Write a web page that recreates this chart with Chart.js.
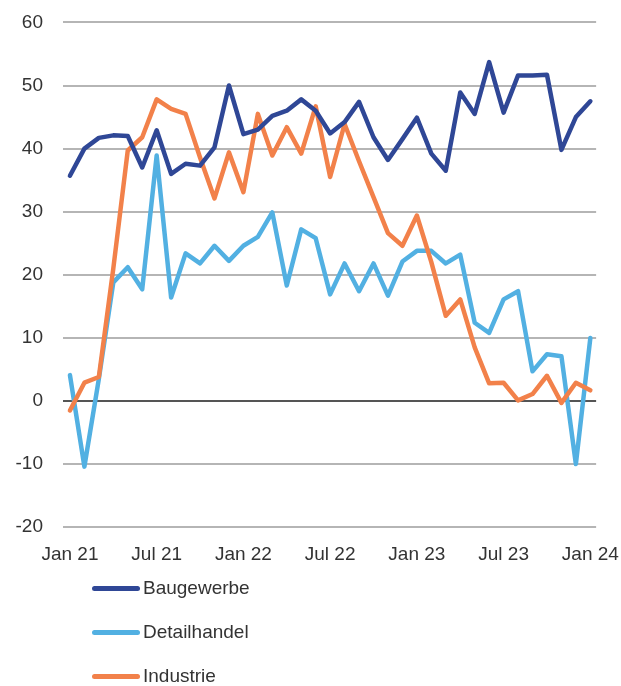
<!doctype html>
<html>
<head>
	<title>Geschäftslage</title>
	<script src="https://cdn.jsdelivr.net/npm/chart.js@4.4.0/dist/chart.umd.min.js"></script>
	<style>
		body { margin: 0; background: #fff; font-family: "Liberation Sans", Arial, sans-serif; overflow: hidden; }
		#wrap { position: relative; width: 621px; height: 686px; overflow: hidden; }
		#box { position: absolute; left: 0; top: -9px; width: 627px; height: 583px; }
		#legend { position: absolute; left: 92px; top: 566px; }
		.item { height: 44px; display: flex; align-items: center; font-size: 19px; color: #333; }
		.swatch { width: 48px; height: 5px; border-radius: 3px; margin-right: 3px; }
	</style>
</head>
<body>
<div id="wrap">
	<div id="box"><canvas id="canvas"></canvas></div>
	<div id="legend"></div>
</div>
<script>
	// monthly, Jan 21 .. Jan 24 (37 values)
	var months = ['Jan 21','Feb 21','Mär 21','Apr 21','Mai 21','Jun 21','Jul 21','Aug 21','Sep 21','Okt 21','Nov 21','Dez 21',
		'Jan 22','Feb 22','Mär 22','Apr 22','Mai 22','Jun 22','Jul 22','Aug 22','Sep 22','Okt 22','Nov 22','Dez 22',
		'Jan 23','Feb 23','Mär 23','Apr 23','Mai 23','Jun 23','Jul 23','Aug 23','Sep 23','Okt 23','Nov 23','Dez 23','Jan 24'];
	var tickLabels = ['Jan 21','Jul 21','Jan 22','Jul 22','Jan 23','Jul 23','Jan 24'];

	var baugewerbe = [35.7, 40, 41.7, 42.1, 42, 37, 42.9, 36, 37.6, 37.3, 40.2, 50,
		42.3, 43, 45.2, 46, 47.8, 46, 42.4, 44.2, 47.4, 41.8, 38.2, 41.5,
		44.9, 39.2, 36.5, 48.9, 45.5, 53.7, 45.7, 51.6, 51.6, 51.7, 39.8, 45, 47.5];
	var detailhandel = [4.1, -10.4, 3.5, 18.8, 21.2, 17.7, 38.9, 16.4, 23.4, 21.8, 24.6, 22.2,
		24.6, 26, 29.9, 18.3, 27.2, 25.8, 16.9, 21.8, 17.4, 21.8, 16.7, 22.1,
		23.8, 23.8, 21.8, 23.2, 12.4, 10.8, 16.1, 17.4, 4.7, 7.4, 7.1, -10, 10];
	var industrie = [-1.5, 2.9, 3.8, 21, 39.7, 41.8, 47.8, 46.3, 45.5, 38.6, 32.1, 39.4,
		33.1, 45.5, 38.9, 43.4, 39.2, 46.7, 35.5, 43.9, 38, 32.3, 26.6, 24.6,
		29.4, 22, 13.5, 16.1, 8.5, 2.8, 2.9, 0.1, 1.1, 4, -0.3, 2.9, 1.7];

	var seriesNames = ['Baugewerbe', 'Detailhandel', 'Industrie'];
	var seriesColors = ['#2f4796', '#52b0e2', '#f2814a'];
	var seriesData = [baugewerbe, detailhandel, industrie];

	function toPoints(arr) {
		return arr.map(function (v, i) { return { x: i, y: v }; });
	}

	var datasets = seriesData.map(function (arr, k) {
		return {
			label: seriesNames[k],
			data: toPoints(arr),
			borderColor: seriesColors[k],
			backgroundColor: seriesColors[k],
			borderWidth: 4.5,
			pointRadius: 0,
			tension: 0,
			borderJoinStyle: 'round',
			borderCapStyle: 'round'
		};
	});
	// draw order: Baugewerbe on top, Industrie under Detailhandel as in original
	datasets[0].order = 0;
	datasets[1].order = 2;
	datasets[2].order = 1;

	var ctx = document.getElementById('canvas').getContext('2d');
	new Chart(ctx, {
		type: 'line',
		data: { datasets: datasets },
		options: {
			responsive: true,
			maintainAspectRatio: false,
			animation: false,
			layout: { padding: { top: 4, right: 13, left: 0, bottom: 0 } },
			plugins: { legend: { display: false }, tooltip: { enabled: false } },
			scales: {
				x: {
					type: 'linear',
					min: -0.48,
					max: 36.4,
					border: { display: false },
					grid: { display: false },
					afterBuildTicks: function (axis) {
						axis.ticks = tickLabels.map(function (t, i) { return { value: i * 6 }; });
					},
					ticks: {
						autoSkip: false,
						maxRotation: 0,
						padding: 8,
						color: '#333',
						font: { family: '"Liberation Sans", Arial, sans-serif', size: 19 },
						callback: function (v) { return tickLabels[Math.round(v / 6)]; }
					}
				},
				y: {
					min: -20,
					max: 60,
					border: { display: false },
					afterFit: function (axis) { axis.width = 63; },
					grid: {
						drawTicks: false,
						lineWidth: 2,
						color: function (c) { return c.tick && c.tick.value === 0 ? '#555' : '#b5b5b5'; }
					},
					ticks: {
						stepSize: 10,
						padding: 20,
						color: '#333',
						font: { family: '"Liberation Sans", Arial, sans-serif', size: 19 }
					}
				}
			}
		}
	});

	// legend, one per row
	var lg = document.getElementById('legend');
	seriesNames.forEach(function (name, k) {
		var row = document.createElement('div');
		row.className = 'item';
		var sw = document.createElement('span');
		sw.className = 'swatch';
		sw.style.background = seriesColors[k];
		row.appendChild(sw);
		row.appendChild(document.createTextNode(name));
		lg.appendChild(row);
	});
</script>
</body>
</html>
